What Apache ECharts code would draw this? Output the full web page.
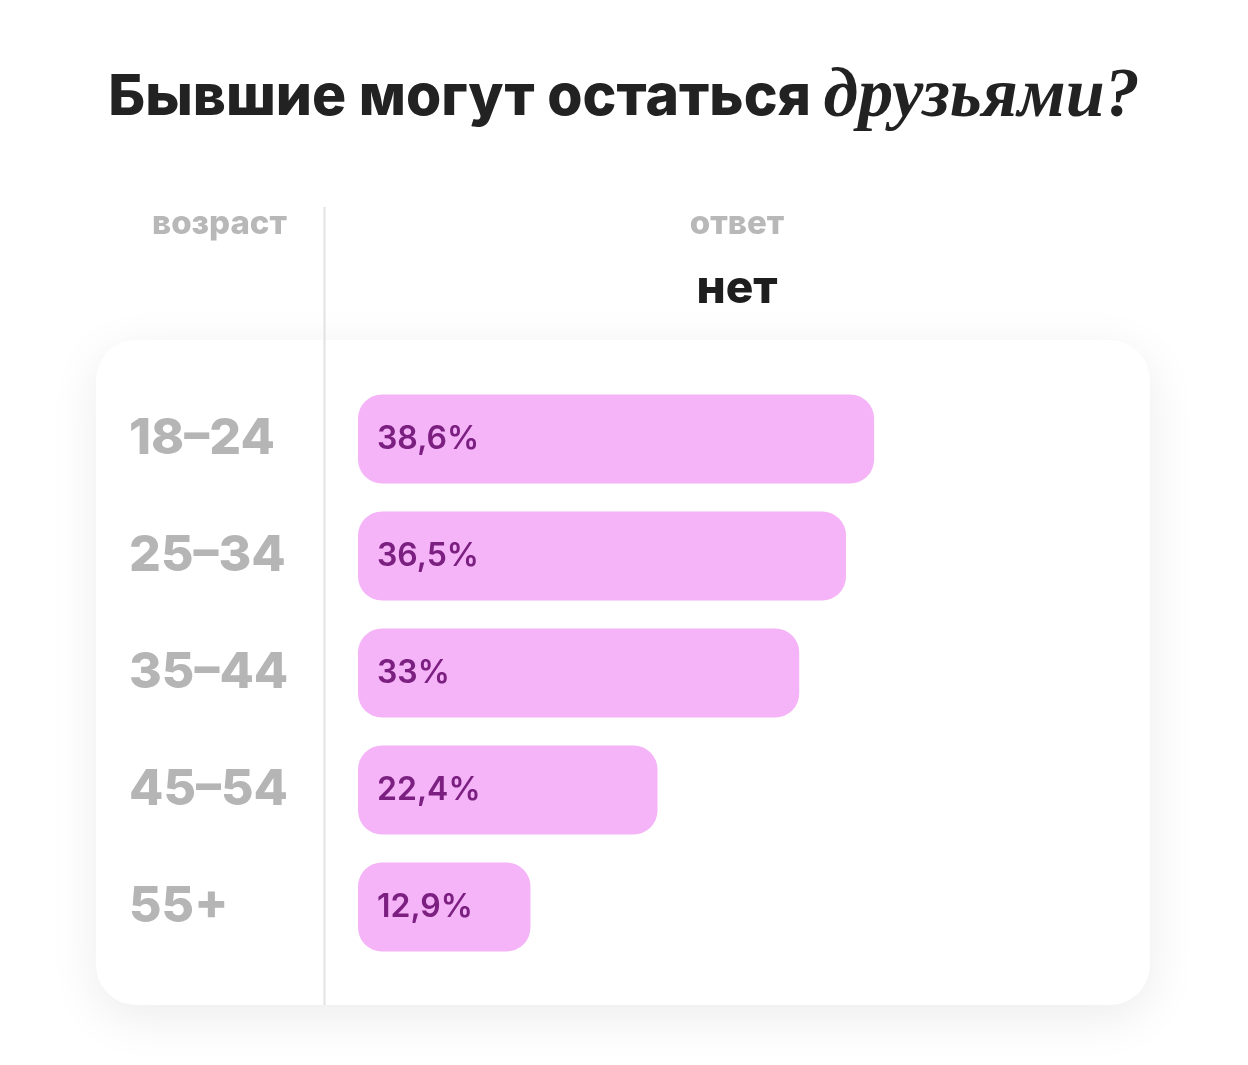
<!DOCTYPE html>
<html>
<head>
<meta charset="utf-8">
<title>Бывшие могут остаться друзьями?</title>
<script src="https://cdn.jsdelivr.net/npm/echarts@6/dist/echarts.min.js"></script>
<style>
    html, body { margin: 0; padding: 0; background: #ffffff; }
    #chart { width: 1248px; height: 1065px; }
</style>
</head>
<body>
<div id="chart"></div>
<script>
// возрастные группы и доля ответа «нет», %
var ages = ['18–24', '25–34', '35–44', '45–54', '55+'];
var noValues = [38.6, 36.5, 33, 22.4, 12.9];
var noLabels = ['38,6%', '36,5%', '33%', '22,4%', '12,9%'];

(function () {
    var chart = echarts.init(document.getElementById('chart'));
    var sans = 'Inter, "Open Sans", sans-serif';

    var option = {
        backgroundColor: '#ffffff',
        animation: false,
        title: {
            left: 'center',
            top: 58,
            text: '{a|Бывшие могут остаться }{b|друзьями?}',
            textStyle: {
                rich: {
                    a: { fontFamily: sans, fontWeight: 800, fontSize: 57, color: '#222222' },
                    b: { fontFamily: '"Liberation Serif", "DejaVu Serif", serif', fontStyle: 'italic', fontSize: 70, color: '#222222' }
                }
            }
        },
        graphic: [
            // карточка с тенью
            {
                type: 'rect', z: -10, silent: true,
                shape: { x: 96, y: 340, width: 1054, height: 665, r: 40 },
                style: { fill: '#ffffff', shadowBlur: 50, shadowOffsetY: 12, shadowColor: 'rgba(0,0,0,0.08)' }
            },
            {
                type: 'line', z: -5, silent: true,
                shape: { x1: 324.5, y1: 207, x2: 324.5, y2: 1005 },
                style: { stroke: '#e2e2e2', lineWidth: 2 }
            },
            {
                type: 'text', x: 152, y: 224,
                style: { text: 'возраст', font: '800 33px ' + sans, fill: '#b8b8b8', verticalAlign: 'middle' }
            },
            {
                type: 'text', x: 737, y: 224,
                style: { text: 'ответ', font: '800 33px ' + sans, fill: '#b8b8b8', align: 'center', verticalAlign: 'middle' }
            },
            {
                type: 'text', x: 737, y: 289,
                style: { text: 'нет', font: '800 46px ' + sans, fill: '#1e1e1e', align: 'center', verticalAlign: 'middle' }
            }
        ],
        grid: { left: 358, top: 380.5, height: 585, width: 775.5 },
        xAxis: {
            type: 'value', min: 0, max: 58,
            show: false
        },
        yAxis: {
            type: 'category',
            data: ages,
            inverse: true,
            axisLine: { show: false },
            axisTick: { show: false },
            axisLabel: {
                align: 'left',
                margin: 229,
                fontFamily: sans,
                fontWeight: 800,
                fontSize: 50,
                color: '#b5b5b5'
            }
        },
        series: [{
            type: 'bar',
            data: noValues,
            barWidth: 89,
            itemStyle: { color: '#f4b4f7', borderRadius: 24 },
            label: {
                show: true,
                position: 'insideLeft',
                distance: 19,
                formatter: function (p) { return noLabels[p.dataIndex]; },
                fontFamily: sans,
                fontWeight: 600,
                fontSize: 32,
                color: '#7b1f80'
            }
        }]
    };
    chart.setOption(option);
})();
</script>
</body>
</html>
